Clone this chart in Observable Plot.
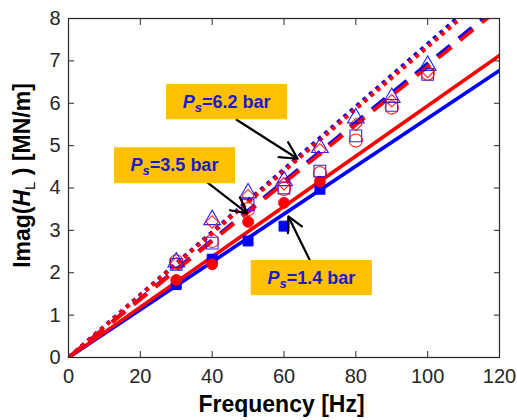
<!DOCTYPE html>
<html>
<head>
<meta charset="utf-8">
<script src="https://cdn.jsdelivr.net/npm/d3@7"></script>
<script src="https://cdn.jsdelivr.net/npm/@observablehq/plot@0.6"></script>
<style>
  html, body { margin: 0; padding: 0; background: #fff; }
  #chart { width: 517px; height: 420px; }
</style>
</head>
<body>
<div id="chart"></div>
<script>
// ---- data ----
const freqAll = [30, 40, 50, 60, 70, 80, 90, 100];
const freqLow = [30, 40, 50, 60, 70];
// Ps = 1.4 bar (filled markers)
const lowBlue = [1.72, 2.32, 2.75, 3.10, 3.97];
const lowRed  = [1.83, 2.20, 3.20, 3.65, 4.15];
// open squares / open circles
const midBlue = [2.20, 2.70, 3.60, 4.00, 4.40, 5.23, 5.95, 6.68];
const midRed  = [2.27, 2.75, 3.50, 3.98, 4.35, 5.12, 5.90, 6.70];
// open triangles / open diamonds
const highBlue = [2.25, 3.25, 3.88, 4.17, 4.95, 5.65, 6.13, 6.89];
const highRed  = [2.22, 3.20, 3.82, 4.10, 4.90, 5.50, 6.06, 6.75];
// fitted lines (value at 0 Hz and 120 Hz)
const fitFreq = [0, 120];
const fitLowBlue  = [0, 6.77];
const fitLowRed   = [0, 7.13];
const fitMidBlue  = [0, 8.32];
const fitMidRed   = [0, 8.24];
const fitHighBlue = [0, 8.88];
const fitHighRed  = [0, 8.80];
const xTicks = [0, 20, 40, 60, 80, 100, 120];
const yTicks = [0, 1, 2, 3, 4, 5, 6, 7, 8];
const labelTexts = ["6.2 bar", "3.5 bar", "1.4 bar"];

// ---- annotation layout (data units) ----
const boxes = [
  {x1: 27.3, x2: 61.0, y1: 5.61, y2: 6.44},
  {x1: 12.8, x2: 46.5, y1: 4.10, y2: 4.95},
  {x1: 50.9, x2: 84.6, y1: 1.46, y2: 2.29}
];
const arrows = [
  {x1: 46.8, y1: 5.61, x2: 63.8, y2: 4.69},
  {x1: 38.1, y1: 4.17, x2: 49.8, y2: 3.40},
  {x1: 67.4, y1: 2.26, x2: 61.2, y2: 3.33}
];

const pts = (xs, ys) => xs.map((x, i) => ({x, y: ys[i]}));
const BLUE = "#0000ff", RED = "#ff0000", AX = "#262626";

const lineOpts = (stroke, extra) => Object.assign({x: "x", y: "y", stroke, clip: true}, extra);

const chart = Plot.plot({
  width: 517,
  height: 420,
  marginLeft: 68,
  marginRight: 18,
  marginTop: 18,
  marginBottom: 63,
  style: {fontFamily: "'Liberation Sans', Arial, sans-serif", fontSize: "20px", color: AX, background: "#fff"},
  x: {domain: [0, 120]},
  y: {domain: [0, 8]},
  marks: [
    // fitted lines
    Plot.line(pts(fitFreq, fitLowBlue), lineOpts(BLUE, {strokeWidth: 3.6})),
    Plot.line(pts(fitFreq, fitLowRed), lineOpts(RED, {strokeWidth: 3.6})),
    Plot.line(pts(fitFreq, fitMidBlue), lineOpts(BLUE, {strokeWidth: 3.8, strokeDasharray: "17,11", strokeLinecap: "butt"})),
    Plot.line(pts(fitFreq, fitMidRed), lineOpts(RED, {strokeWidth: 3.8, strokeDasharray: "17,11", strokeLinecap: "butt"})),
    Plot.line(pts(fitFreq, fitHighBlue), lineOpts(BLUE, {strokeWidth: 4, strokeDasharray: "4,4.5", strokeLinecap: "butt"})),
    Plot.line(pts(fitFreq, fitHighRed), lineOpts(RED, {strokeWidth: 4, strokeDasharray: "4,4.5", strokeLinecap: "butt"})),
    // Ps = 1.4 bar filled
    Plot.dot(pts(freqLow, lowBlue), {x: "x", y: "y", symbol: "square", r: 5.6, fill: BLUE, stroke: BLUE, strokeWidth: 1}),
    Plot.dot(pts(freqLow, lowRed), {x: "x", y: "y", symbol: "circle", r: 5.4, fill: RED, stroke: RED, strokeWidth: 1}),
    // open markers
    Plot.dot(pts(freqAll, midBlue), {x: "x", y: "y", symbol: "square", r: 6.6, fill: "none", stroke: BLUE, strokeWidth: 1.1, strokeOpacity: 0.85}),
    Plot.dot(pts(freqAll, midRed), {x: "x", y: "y", symbol: "circle", r: 6.6, fill: "none", stroke: RED, strokeWidth: 1.1, strokeOpacity: 0.85}),
    Plot.dot(pts(freqAll, highBlue), {x: "x", y: "y", symbol: "triangle", r: 6.2, fill: "none", stroke: BLUE, strokeWidth: 1.1, strokeOpacity: 0.85}),
    Plot.dot(pts(freqAll, highRed), {x: "x", y: "y", symbol: "diamond2", r: 5.6, fill: "none", stroke: RED, strokeWidth: 1.1, strokeOpacity: 0.85}),
    // axes: inward ticks on all four sides
    Plot.axisX(xTicks, {anchor: "bottom", tickSize: -6, tickPadding: 17, stroke: AX, fill: AX, label: null}),
    Plot.axisX(xTicks, {anchor: "top", tickSize: -6, tickFormat: () => "", stroke: AX, label: null}),
    Plot.axisY(yTicks, {anchor: "left", tickSize: -6, tickPadding: 14, stroke: AX, fill: AX, label: null}),
    Plot.axisY(yTicks, {anchor: "right", tickSize: -6, tickFormat: () => "", stroke: AX, label: null}),
    Plot.frame({stroke: AX, strokeWidth: 1.2}),
    // annotations
    Plot.arrow(arrows, {x1: "x1", y1: "y1", x2: "x2", y2: "y2", stroke: "#000", strokeWidth: 2.2, headLength: 13, headAngle: 55, bend: false}),
    Plot.rect(boxes, {x1: "x1", x2: "x2", y1: "y1", y2: "y2", fill: "#ffc000"})
  ]
});

document.getElementById("chart").appendChild(chart);

// ---- rich text: box labels and axis titles ----
const svg = d3.select(chart);
const sx = chart.scale("x"), sy = chart.scale("y");
boxes.forEach((b, i) => {
  const cx = (sx.apply(b.x1) + sx.apply(b.x2)) / 2;
  const cy = (sy.apply(b.y1) + sy.apply(b.y2)) / 2;
  const t = svg.append("text")
    .attr("x", cx).attr("y", cy + 6)
    .attr("text-anchor", "middle")
    .attr("font-family", "'Liberation Sans', Arial, sans-serif")
    .attr("font-weight", "bold")
    .attr("font-size", 18)
    .attr("fill", "#1a1ad0");
  t.append("tspan").attr("font-style", "italic").text("P");
  t.append("tspan").attr("font-style", "italic").attr("font-size", 13).attr("dy", 4).text("s");
  t.append("tspan").attr("dy", -4).text("=" + labelTexts[i]);
});

const [rx0, rx1] = sx.range;
const [ry0, ry1] = sy.range;
svg.append("text")
  .attr("x", (rx0 + rx1) / 2 - 2)
  .attr("y", 412)
  .attr("text-anchor", "middle")
  .attr("font-family", "'Liberation Sans', Arial, sans-serif")
  .attr("font-weight", "bold")
  .attr("font-size", 23)
  .attr("fill", "#000")
  .text("Frequency [Hz]");

const yt = svg.append("text")
  .attr("transform", `translate(30,${(ry0 + ry1) / 2 - 12}) rotate(-90)`)
  .attr("text-anchor", "middle")
  .attr("font-family", "'Liberation Sans', Arial, sans-serif")
  .attr("font-weight", "bold")
  .attr("font-size", 23)
  .attr("fill", "#000");
yt.append("tspan").text("Imag(");
yt.append("tspan").attr("font-style", "italic").text("H");
yt.append("tspan").attr("font-size", 15).attr("font-weight", "normal").attr("dy", 5).text("L");
yt.append("tspan").attr("dy", -5).text(" ) [MN/m]");
</script>
</body>
</html>
